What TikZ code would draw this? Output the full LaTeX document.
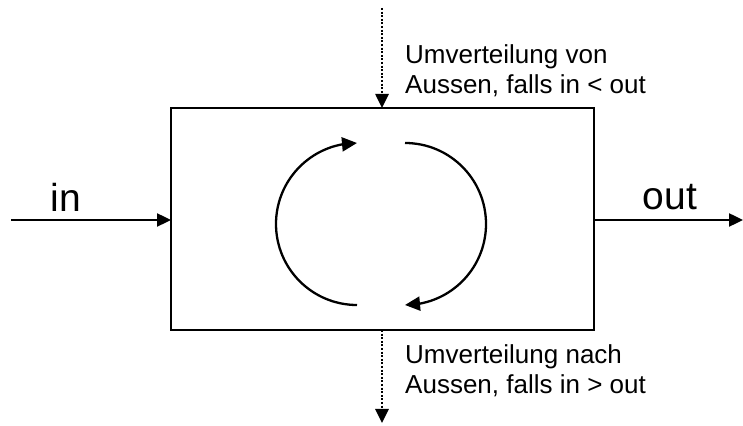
\documentclass[tikz,border=0pt]{standalone}
\usepackage{fontspec}
\setmainfont{Liberation Sans}
\usetikzlibrary{arrows.meta,bending}
\usetikzlibrary{positioning}

\begin{document}
\begin{tikzpicture}[x=1pt,y=1pt]
  \tikzset{TankStyle/.style = {
    shape         = rectangle,
    draw          = black,
    fill          = white,
    line width    = 2.4pt,
    inner sep     = 0pt,
    outer sep     = 0pt,
    minimum width = 423pt,
    minimum height= 222pt
    }
  }
  \tikzset{FlowStyle/.style = {
    draw          = black,
    line width    = 2.4pt,
    -{Triangle[length=14pt,width=13pt]}
    }
  }
  \tikzset{ExchangeStyle/.style = {
    FlowStyle,
    line width    = 2.6pt,
    dash pattern  = on 2pt off 1.6pt
    }
  }
  \tikzset{CycleStyle/.style = {
    draw          = black,
    line width    = 2.3pt,
    -{Triangle[length=15pt,width=14pt,flex]}
    }
  }
  \tikzset{BigLabelStyle/.style = {
    inner sep     = 0pt,
    font          = \fontsize{39}{44}\selectfont
    }
  }
  \tikzset{NoteStyle/.style = {
    inner sep     = 0pt,
    align         = left,
    anchor        = north west,
    font          = \fontsize{26}{30}\selectfont
    }
  }

	\useasboundingbox (0,0) rectangle (743,425);

	\node[TankStyle](tank) at (382.5,206) {};
	\coordinate(midL) at (357,201);
	\coordinate(midR) at (405,201);

	% in / out
	\coordinate(inS) at (11,205);
	\coordinate(outE) at (743,205);
	\draw[FlowStyle](inS) -- (inS -| tank.west);
	\draw[FlowStyle](outE -| tank.east) -- (outE);
	\node[BigLabelStyle,anchor=base](inL) at (66,213) {in};
	\node[BigLabelStyle,anchor=base](outL) at (670,215) {out};

	% exchange with the outside
	\coordinate(topS) at (382,417);
	\coordinate(botE) at (382,2);
	\draw[ExchangeStyle](topS) -- (topS |- tank.north);
	\draw[ExchangeStyle](botE |- tank.south) -- (botE);
	\node[NoteStyle](fromOut) at (405,381) {Umverteilung von\\Aussen, falls in < out};
	\node[NoteStyle](toOut) at (405,81) {Umverteilung nach\\Aussen, falls in > out};

	% circulation
	\draw[CycleStyle](midL) ++(0,-81) arc[start angle=270, end angle=90, radius=81pt];
	\draw[CycleStyle](midR) ++(0,81) arc[start angle=90, end angle=-90, radius=81pt];
\end{tikzpicture}
\end{document}
